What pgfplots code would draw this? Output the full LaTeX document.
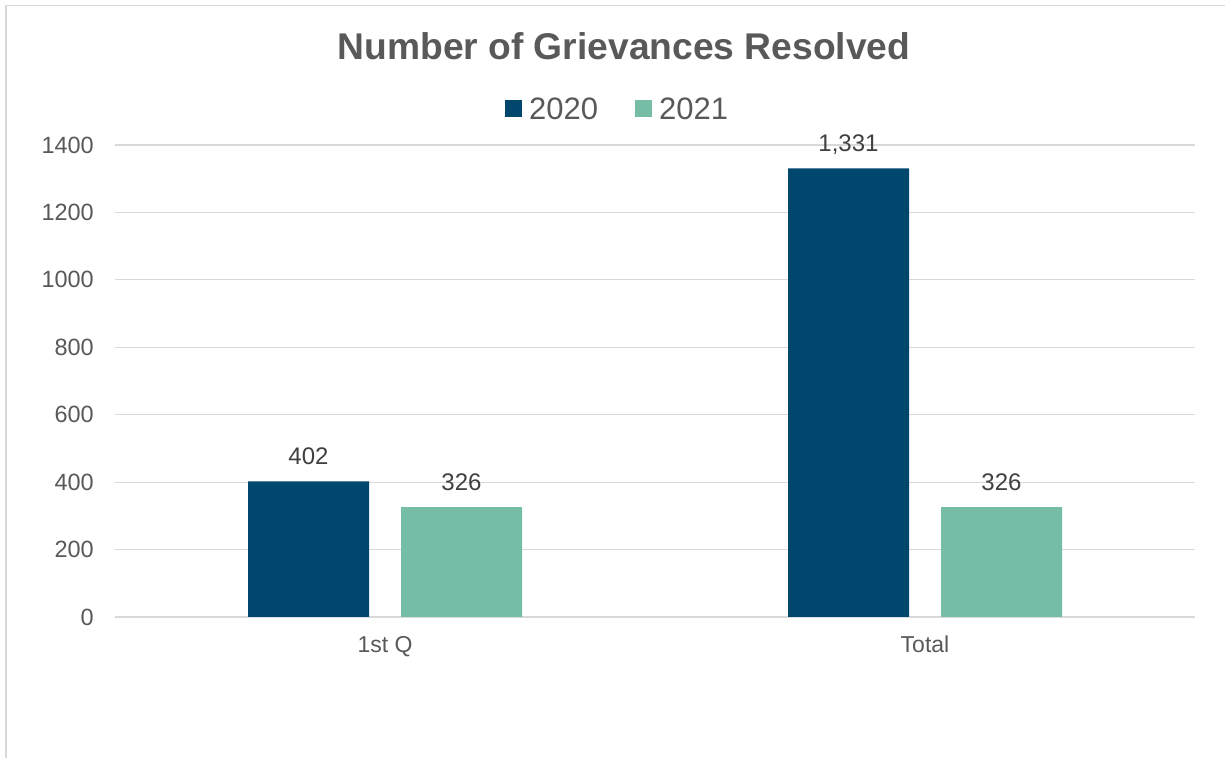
\documentclass[border=0pt]{standalone}
\usepackage{pgfplots}
\pgfplotsset{compat=1.18}
\usepackage{fontspec}
\setmainfont{Liberation Sans}
\definecolor{c2020}{HTML}{00476E}
\definecolor{c2021}{HTML}{76BDA7}
\definecolor{gridc}{HTML}{D9D9D9}
\definecolor{txt}{HTML}{595959}
\definecolor{lab}{HTML}{404040}
\begin{document}
\begin{tikzpicture}[x=1bp,y=1bp]
\begin{axis}[
  at={(115bp,141bp)}, anchor=south west,
  scale only axis, width=1080bp, height=472bp,
  xmin=-0.5, xmax=1.5, ymin=0, ymax=1400,
  xtick={0,1}, xticklabels={1st Q, Total},
  ytick={0,200,...,1400},
  ymajorgrids, grid style={gridc, line width=1.2bp},
  axis line style={draw=none},
  major tick length=0pt,
  /pgf/number format/assume math mode=true,
  yticklabel style={font=\fontsize{23.5bp}{28bp}\selectfont, text=txt, anchor=east, inner sep=0pt, xshift=-21bp, /pgf/number format/1000 sep={}},
  xticklabel style={font=\fontsize{23bp}{28bp}\selectfont, text=txt, anchor=base, inner sep=0pt, yshift=-36bp},
  ybar, bar width=121bp,
  nodes near coords,
  every node near coord/.append style={font=\fontsize{24bp}{28bp}\selectfont, text=lab, anchor=base, inner sep=0pt, yshift=17bp, /pgf/number format/1000 sep={,}},
  legend columns=2,
  legend style={at={(axis description cs:0.4645,1.0763)}, anchor=center, draw=none, fill=none,
    font=\fontsize{31bp}{36bp}\selectfont, text=txt, inner sep=0pt,
    nodes={inner sep=0pt},
    /tikz/every odd column/.append style={column sep=7bp},
    /tikz/every even column/.append style={column sep=37bp}},
]
\addplot[fill=c2020, draw=none, bar shift=-76.5bp,
  legend image code/.code={\fill[c2020] (0bp,-8.5bp) rectangle (17bp,8.5bp);}]
  coordinates {(0,402) (1,1331)};
\addplot[fill=c2021, draw=none, bar shift=76.5bp,
  legend image code/.code={\fill[c2021] (0bp,-8.5bp) rectangle (17bp,8.5bp);}]
  coordinates {(0,326) (1,326)};
\legend{2020,2021}
\end{axis}
\node[anchor=base, font=\fontsize{37.2bp}{42bp}\selectfont\bfseries, text=txt] at (624bp,698.7bp) {Number of Grievances Resolved};
\draw[gridc, line width=1.3bp] (6bp,0bp) -- (6bp,752.5bp) -- (1225bp,752.5bp);
\pgfresetboundingbox
\useasboundingbox (0bp,0bp) rectangle (1225bp,758bp);
\end{tikzpicture}
\end{document}
